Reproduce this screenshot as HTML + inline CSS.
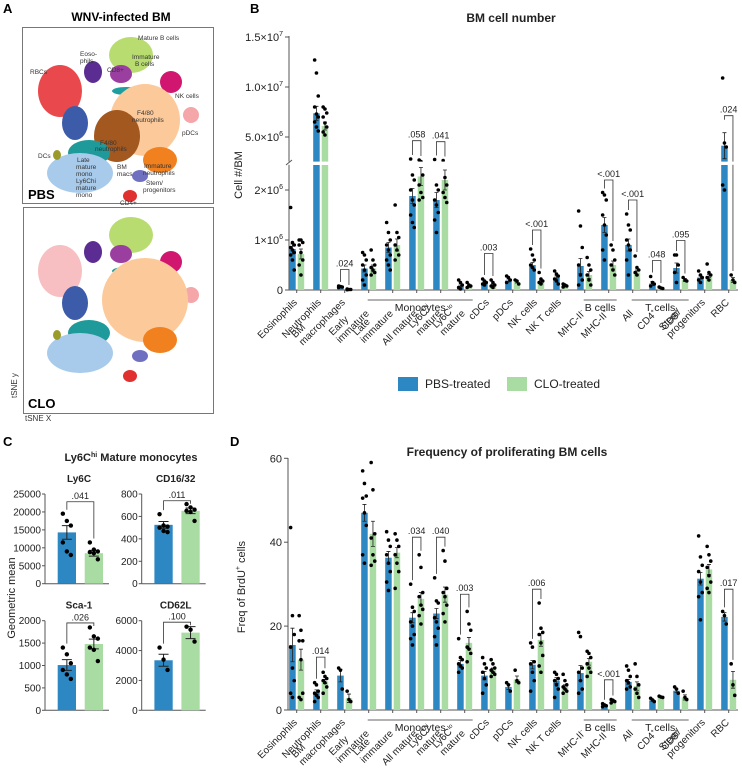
<!DOCTYPE html>
<html><head><meta charset="utf-8">
<style>
html,body{margin:0;padding:0;background:#fff;}
svg{display:block;font-family:"Liberation Sans",Arial,sans-serif;}
</style></head>
<body>
<svg id="fig" width="742" height="775" viewBox="0 0 742 775" xmlns="http://www.w3.org/2000/svg">
  <text x="3" y="13" font-size="13" font-weight="bold">A</text>
  <text x="250" y="13" font-size="13" font-weight="bold">B</text>
  <text x="3" y="446" font-size="13" font-weight="bold">C</text>
  <text x="230" y="446" font-size="13" font-weight="bold">D</text>
  <text x="121" y="21" font-size="12" font-weight="bold" text-anchor="middle">WNV-infected BM</text>
  <rect x="22.5" y="27.5" width="191" height="176" fill="none" stroke="#777"/>
  <rect x="23.5" y="207.5" width="190" height="206" fill="none" stroke="#777"/>
  <g id="tsne"></g>
  <text x="28" y="199" font-size="13" font-weight="bold">PBS</text>
  <text x="28" y="408" font-size="13" font-weight="bold">CLO</text>
  <text transform="translate(17,398) rotate(-90)" font-size="8" fill="#333">tSNE y</text>
  <text x="25" y="421" font-size="8" fill="#333">tSNE X</text>
  <g id="chartB"></g>
  <g id="chartD"></g>
  <g id="chartC"></g>
</svg>
<script>
// ---------- Panel B data (cell number, millions) ----------
const cats = [["Eosinophils"],["Neutrophils"],["BM","macrophages"],["Early","immature"],["Late","immature"],["All mature"],["Ly6C^hi","mature"],["Ly6C^lo","mature"],["cDCs"],["pDCs"],["NK cells"],["NK T cells"],["MHC-II^-"],["MHC-II^+"],["All"],["CD4^+"],["CD8^+"],["Stem/","progenitors"],["RBC"]];
const bPbs = [0.82,7.37,0.06,0.43,0.85,1.88,1.8,0.08,0.14,0.19,0.5,0.25,0.48,1.3,0.9,0.13,0.44,0.25,4.13];
const bClo = [0.72,6.1,0.01,0.43,0.9,2.27,2.2,0.07,0.1,0.16,0.16,0.07,0.3,0.5,0.35,0.04,0.2,0.28,0.2];
const bPbsSem = [0.1,0.7,0.01,0.07,0.1,0.15,0.15,0.02,0.02,0.03,0.05,0.03,0.15,0.15,0.12,0.04,0.1,0.03,1.3];
const bCloSem = [0.1,0.4,0.003,0.07,0.12,0.18,0.2,0.02,0.02,0.02,0.03,0.01,0.07,0.08,0.05,0.01,0.03,0.03,0.05];
const bPbsDots = [[1.65,0.95,0.9,0.85,0.8,0.75,0.7,0.6,0.4],[12.7,11.4,9.1,8.0,7.3,7.0,6.5,6.0,5.6],[0.08,0.07,0.06,0.05],[0.75,0.7,0.6,0.5,0.4,0.3,0.2,0.1],[1.35,1.15,1.0,0.9,0.8,0.7,0.6,0.5,0.4],[2.8,2.3,2.2,2.0,1.8,1.7,1.5,1.35,1.25],[2.75,2.1,2.0,1.8,1.7,1.55,1.4,1.15],[0.2,0.15,0.1,0.05,0.02],[0.22,0.18,0.15,0.12,0.1],[0.28,0.25,0.2,0.15],[0.82,0.7,0.6,0.5,0.45,0.4],[0.38,0.32,0.28,0.22,0.18,0.12],[1.58,1.28,0.85,0.5,0.3,0.2,0.1],[1.95,1.9,1.8,1.5,1.3,1.1,0.8,0.6],[1.52,1.3,1.2,1.0,0.9,0.8,0.6,0.3],[0.27,0.15,0.12,0.08],[0.7,0.7,0.5,0.35,0.15],[0.38,0.3,0.25,0.2,0.15],[10.9,4.4,4.0,2.1,2.0]];
const bCloDots = [[1.0,1.0,0.95,0.9,0.75,0.6,0.5,0.3],[8.0,7.8,7.4,7.0,6.4,6.0,5.5,5.2],[0.02,0.01,0.01,0.005],[0.8,0.6,0.5,0.45,0.4,0.35,0.3],[1.7,1.15,1.05,0.9,0.8,0.7,0.6],[2.7,2.55,2.3,2.1,1.95,1.85,1.8],[2.65,2.25,2.1,1.95,1.85,1.75],[0.15,0.1,0.08,0.05],[0.2,0.15,0.1,0.08,0.05],[0.2,0.18,0.12],[0.35,0.22,0.18,0.15,0.12],[0.12,0.1,0.08,0.06],[0.65,0.5,0.4,0.3,0.2,0.1],[0.9,0.8,0.6,0.5,0.4,0.3],[0.68,0.45,0.4,0.35,0.3],[0.06,0.04,0.03],[0.25,0.2,0.18],[0.52,0.35,0.3,0.25,0.2],[0.3,0.2,0.15]];
const bBrIdx = [2,5,6,8,10,13,14,15,16,18];
const bBrVal = [0.41,4.63,4.53,0.73,1.2,2.2,1.8,0.59,0.99,7.13];
const bBrLab = [".024",".058",".041",".003","<.001","<.001","<.001",".048",".095",".024"];
const bTickVals = [0,1,2,5,10,15];
const bTickLabs = [["0",""],["1×10","6"],["2×10","6"],["5.0×10","6"],["1.0×10","7"],["1.5×10","7"]];

// ---------- Panel D data (freq BrdU+) ----------
const dPbs = [15.5,4.3,8.2,47,36.3,22,23,11,8.2,5.5,10.8,7,8.8,1.2,6.7,2.3,4.6,31.3,22.2];
const dClo = [12,6.8,2.8,42,37.5,26.5,27.5,16,9.5,7.3,16.7,5.5,11.5,2,5.7,3.1,3,33.5,7.2];
const dPbsSem = [4,0.5,1.5,2,1.5,1.2,1.2,0.8,1,0.6,1,0.7,1.8,0.15,0.6,0.2,0.4,1.5,1];
const dCloSem = [2.5,0.5,1,3,1.2,1.5,1.8,1.3,0.5,0.8,1.5,0.5,0.8,0.15,1,0.1,0.6,1.2,2];
const dPbsDots = [[43.5,22.5,18,15,10,7,4,3],[6.5,6,4.5,4,3.5,3,2],[10,9.5,5],[57,54,51,50.5,47,44,37,35],[42.5,40.5,39,37,35,33,30.5,28.5],[30,24.5,23.5,21,20,18,17,15.5],[31.5,26,25.5,22,21,19.5,17.5,15.5],[17,12.5,12,11,10.5,10,9],[12.5,11,10,9,7.5,6,4],[6.5,6,4.5],[16,15,11.5,11,9,7,4.5],[9,8.5,7.5,7,6,5,3],[18.5,17.5,10,9,7,5,4],[1.5,1.2,1,0.8],[10.5,9.5,8,7,6.5,5.5,5],[2.8,2.4,2],[5.5,5,4],[41.5,36.5,34.5,33,30.5,28,27,21.5],[23.5,22.5,20.5]];
const dCloDots = [[22.5,19,16.5,16.5,12,4,3,2.5],[9,8,7.5,7,6.5,5.5,4],[4.5,2.5,2],[59,52.5,42,41,37,35.5,34.5],[42,40.5,39,37,35,33,29],[37,34,28,27,25,24,22.5,20.5],[38,35.5,29,28,27,25,23,21],[23.5,20.5,19,15,14.5,13.5,11.5],[12,11,10,9.5,9,8.5,8],[9.5,7,6.5],[25.5,19.5,18.5,18,16,13,10.5,9],[8.5,7,6,5.5,5,4.5,4],[14,13.5,12.5,11,10,9,8],[2.5,2.3,2,1.7],[11,8,6,5,4,3],[3.3,3.1,3],[4.5,3,2.5],[39,37,35.5,34,32,30.5,29,28],[11,6,3.5]];
const dBrIdx = [1,5,6,7,10,13,18];
const dBrVal = [12.6,41.2,41.2,27.6,28.8,7.2,28.8];
const dBrLab = [".014",".034",".040",".003",".006","<.001",".017"];
const dTicks = [0,20,40,60];

// ---------- Panel C data ----------
const cTitles = ["Ly6C","CD16/32","Sca-1","CD62L"];
const cMax = [25000,800,2000,6000];
const cTicks = [[0,5000,10000,15000,20000,25000],[0,200,400,600,800],[0,500,1000,1500,2000],[0,2000,4000,6000]];
const cPbs = [14300,525,1010,3350];
const cClo = [8500,650,1480,5200];
const cPbsSem = [1900,30,120,400];
const cCloSem = [800,25,110,400];
const cPbsDots = [[19500,17500,16200,11500,9000,8000],[620,520,510,500,470,460],[1400,1250,1050,900,800,700],[4200,3400,2700]];
const cCloDots = [[11500,9500,9000,8800,8500,6800],[710,680,660,650,640,560],[1850,1650,1600,1400,1350,1100],[5600,5400,4600]];
const cBrVal = [22850,740,1950,5900];
const cBrLab = [".041",".011",".026",".100"];

const PBS = "#2d87c3", CLO = "#a9dca2", AX = "#555";
const NS = "http://www.w3.org/2000/svg";
const GROUPED = [3,4,5,6,7,12,13,14,15,16];
function mk(tag, attrs, parent){const e=document.createElementNS(NS,tag);for(const k in attrs)e.setAttribute(k,attrs[k]);parent.appendChild(e);return e;}

// ---------- tSNE blobs (panel A) ----------
const tsne = document.getElementById('tsne');
const blobs = [
 ["mature-b-cells","#b8dc70",131,55,22,18],["eosinophils","#5b2c92",93,72,9,11],["cd8-t-cells","#9a3fa0",121,74,11,9],["teal-strip","#1e9f9f",126,91,14,4],
 ["rbcs","#e9494c",60,91,22,26],["nk-cells","#d1166f",171,82,11,11],["pdcs","#f4a6a8",191,115,8,8],["f4-80-neutrophils","#fcca9a",145,120,35,36],
 ["f4-80-lo-neutrophils","#a3581f",117,136,23,26],["immature-neutrophils","#f1801f",160,160,17,13],["early-mono","#3c5ba8",75,123,13,17],["late-mono","#1e9a9a",89,153,21,13],
 ["ly6chi-mono","#a9cbeb",80,173,33,20],["dcs","#9b9b2a",57,155,4,5],["stem","#7070c0",140,176,8,6],["cd4-t-cells","#e03030",130,196,7,6]
];
const labelsA = [["Mature B cells",138,40],["Eoso-",80,56],["phils",80,63],["Immature",132,59],["B cells",135,66],["CD8+",107,72],["RBCs",30,74],["NK cells",175,98],["F4/80",137,115],["neutrophils",132,122],["pDCs",182,135],["F4/80",100,145],["neutrophils",95,151],["DCs",38,158],["Late",77,162],["mature",76,169],["mono",76,176],["BM",117,169],["macs",117,176],["Immature",144,168],["neutrophils",143,175],["Ly6Chi",76,183],["mature",76,190],["mono",76,197],["Stem/",146,185],["progenitors",143,192],["CD4+",120,205]];
[0,1].forEach(p=>{
  const dy = p===0?0:180;
  blobs.forEach(b=>{
    let rx=b[4], ry=b[5], op=1;
    if(p===1 && b[0]==="rbcs"){op=0.35;}
    if(p===1 && b[0]==="f4-80-neutrophils"){rx=b[4]+8;ry=b[5]+6;}
    if(p===1 && b[0]==="f4-80-lo-neutrophils"){return;}
    const e=mk('ellipse',{cx:b[2],cy:b[3]+dy,rx:rx,ry:ry,fill:b[1],opacity:op},tsne);
    
    
  });
});
labelsA.forEach(l=>{
  const t=mk('text',{x:l[1],y:l[2],'font-size':6.5,fill:'#333'},tsne);
  t.textContent=l[0];
  
  
});

function fillLine(t, line){
  const parts=line.split('^');
  const a=mk('tspan',{},t); a.textContent=parts[0];
  if(parts[1]){const s=mk('tspan',{'font-size':6,dy:-4},t);s.textContent=parts[1];}
}

// ---------- Grouped chart helper ----------
function groupedChart(g, cfg){
  const xs = i => 296.7 + i*24;
  const y = cfg.y;
  let a=mk('line',{x1:cfg.ax,y1:cfg.yTopAxis,x2:cfg.ax,y2:cfg.y0,stroke:AX,'stroke-width':1},g);
  
  
  a=mk('line',{x1:cfg.ax,y1:cfg.y0,x2:738,y2:cfg.y0,stroke:AX,'stroke-width':1},g);
  
  
  cats.forEach((c,i)=>{
    const cx = xs(i);
    const tk=mk('line',{x1:cx,y1:cfg.y0,x2:cx,y2:cfg.y0+3,stroke:AX},g);
    
    
    [[cfg.pbs,cfg.pbsSem,cfg.pbsDots,PBS,-7.5,'pbs'],[cfg.clo,cfg.cloSem,cfg.cloDots,CLO,1,'clo']].forEach(s=>{
      const v=s[0][i], bx=cx+s[4], bw=6.5;
      const top=y(v);
      if(cfg.brk && v>cfg.brk){
        let r=mk('rect',{x:bx,y:top,width:bw,height:y(cfg.brk,true)-top,fill:s[3]},g);
        
        
        r=mk('rect',{x:bx,y:y(cfg.brk),width:bw,height:cfg.y0-y(cfg.brk),fill:s[3]},g);
        
        
      } else {
        const r=mk('rect',{x:bx,y:top,width:bw,height:Math.max(cfg.y0-top,0.6),fill:s[3]},g);
        
        
      }
      const mx=bx+bw/2, e1=y(v+s[1][i]), e2=y(Math.max(v-s[1][i],0));
      const eb=mk('path',{d:`M${mx},${e1}V${e2}M${mx-2},${e1}H${mx+2}M${mx-2},${e2}H${mx+2}`,stroke:'#222','stroke-width':0.8,fill:'none'},g);
      
      
      s[2][i].forEach((d,k)=>{
        const dot=mk('circle',{cx:mx+((k%3)-1)*1.8,cy:y(d),r:1.8,fill:'#000'},g);
        
        
      });
    });
    const off = GROUPED.indexOf(i)>=0 ? 24 : 13;
    const lg=mk('g',{transform:`translate(${cx+1},${cfg.y0+off}) rotate(-45)`},g);
    
    
    const last=mk('text',{x:0,y:0,'font-size':10,fill:'#222','text-anchor':'end'},lg);
    fillLine(last, c[c.length-1]);
    if(c.length>1){
      const w=last.getComputedTextLength();
      const first=mk('text',{x:-w,y:-10.5,'font-size':10,fill:'#222'},lg);
      fillLine(first, c[0]);
    }
  });
  cfg.brIdx.forEach((i,k)=>{
    const cx=xs(i), x1=cx-4.25, x2=cx+4.25, yb=y(cfg.brVal[k]);
    const lp=Math.max(...cfg.pbsDots[i]), rp=Math.max(...cfg.cloDots[i]);
    const l1=Math.max(yb+4, y(lp)-4), l2=Math.max(yb+4, y(rp)-4);
    const p=mk('path',{d:`M${x1},${l1}V${yb}H${x2}V${l2}`,stroke:'#333','stroke-width':0.8,fill:'none'},g);
    
    
    const t=mk('text',{x:cx,y:yb-3,'font-size':9,'text-anchor':'middle',fill:'#222'},g);
    t.textContent=cfg.brLab[k];
    
    
  });
  [["Monocytes",3,7],["B cells",12,13],["T cells",14,16]].forEach(gr=>{
    const l=mk('line',{x1:xs(gr[1])-1,y1:cfg.y0+10,x2:xs(gr[2])+8,y2:cfg.y0+10,stroke:'#666'},g);
    
    
    const t=mk('text',{x:(xs(gr[1])+xs(gr[2])+7)/2,y:cfg.y0+21,'font-size':10.5,'text-anchor':'middle',fill:'#222'},g);
    t.textContent=gr[0];
    
    
  });
}

// ---------- Panel B ----------
const gB=document.getElementById('chartB');
function yB(v, upper){ if(upper) return 137-10*(v-5); return v<=2.5 ? 290-50*v : 137-10*(v-5); }
groupedChart(gB,{y:yB,y0:290,yTopAxis:36,ax:289,brk:2.5,pbs:bPbs,clo:bClo,pbsSem:bPbsSem,cloSem:bCloSem,pbsDots:bPbsDots,cloDots:bCloDots,brIdx:bBrIdx,brVal:bBrVal,brLab:bBrLab});
let wb=mk('rect',{x:284,y:161.6,width:455,height:3.2,fill:'#fff'},gB);


wb=mk('path',{d:'M286,165L292,160',stroke:AX},gB);


bTickVals.forEach((v,k)=>{
  const yy=yB(v);
  const tk=mk('line',{x1:285,y1:yy,x2:289,y2:yy,stroke:AX},gB);
  
  
  const t=mk('text',{x:283,y:yy+4,'font-size':11,'text-anchor':'end',fill:'#222'},gB);
  
  
  const a=mk('tspan',{},t);a.textContent=bTickLabs[k][0];
  if(bTickLabs[k][1]){const s=mk('tspan',{'font-size':7,dy:-5},t);s.textContent=bTickLabs[k][1];}
});
let tB=mk('text',{x:511,y:22,'font-size':12,'font-weight':'bold','text-anchor':'middle',fill:'#222'},gB);
tB.textContent='BM cell number';


tB=mk('text',{transform:'translate(242,175) rotate(-90)','font-size':11,'text-anchor':'middle',fill:'#222'},gB);
tB.textContent='Cell #/BM';


[[PBS,'PBS-treated',398],[CLO,'CLO-treated',507]].forEach(l=>{
  const r=mk('rect',{x:l[2],y:377,width:20,height:14,fill:l[0]},gB);
  
  
  const t=mk('text',{x:l[2]+27,y:388,'font-size':12,fill:'#222'},gB);
  t.textContent=l[1];
  
  
});

// ---------- Panel D ----------
const gD=document.getElementById('chartD');
function yD(v){ return 710 - v*4.195; }
groupedChart(gD,{y:yD,y0:710,yTopAxis:458,ax:288,brk:null,pbs:dPbs,clo:dClo,pbsSem:dPbsSem,cloSem:dCloSem,pbsDots:dPbsDots,cloDots:dCloDots,brIdx:dBrIdx,brVal:dBrVal,brLab:dBrLab});
dTicks.forEach(v=>{
  const yy=yD(v);
  const tk=mk('line',{x1:284,y1:yy,x2:288,y2:yy,stroke:AX},gD);
  
  
  const t=mk('text',{x:282,y:yy+4,'font-size':11,'text-anchor':'end',fill:'#222'},gD);
  t.textContent=v;
  
  
});
let tD=mk('text',{x:507,y:456,'font-size':12,'font-weight':'bold','text-anchor':'middle',fill:'#222'},gD);
tD.textContent='Frequency of proliferating BM cells';


tD=mk('text',{transform:'translate(245,587) rotate(-90)','font-size':11,'text-anchor':'middle',fill:'#222'},gD);


let s1=mk('tspan',{},tD);s1.textContent='Freq of BrdU';
let s2=mk('tspan',{'font-size':7,dy:-5},tD);s2.textContent='+';
let s3=mk('tspan',{dy:5},tD);s3.textContent=' cells';

// ---------- Panel C ----------
const gC=document.getElementById('chartC');
const cPos=[[45,494,583.7],[141.7,494,583.7],[45,620.7,710.3],[141.7,620.7,710.3]];
cTitles.forEach((ttl,k)=>{
  const ax=cPos[k][0], yt=cPos[k][1], y0=cPos[k][2];
  const yc=v=> y0-(v/cMax[k])*(y0-yt);
  let e=mk('line',{x1:ax,y1:yt,x2:ax,y2:y0,stroke:AX},gC);
  
  
  e=mk('line',{x1:ax,y1:y0,x2:ax+64,y2:y0,stroke:AX},gC);
  
  
  cTicks[k].forEach(v=>{
    const tk=mk('line',{x1:ax-3,y1:yc(v),x2:ax,y2:yc(v),stroke:AX},gC);
    
    
    const t=mk('text',{x:ax-4,y:yc(v)+3.5,'font-size':10,'text-anchor':'end',fill:'#222'},gC);
    t.textContent=v;
    
    
  });
  const tt=mk('text',{x:ax+34,y:yt-12,'font-size':10,'font-weight':'bold','text-anchor':'middle',fill:'#222'},gC);
  tt.textContent=ttl;
  
  
  [[cPbs,cPbsSem,cPbsDots,PBS,12.7,'pbs'],[cClo,cCloSem,cCloDots,CLO,39.7,'clo']].forEach(s=>{
    const v=s[0][k], bx=ax+s[4], bw=18.3, mx=bx+bw/2;
    const r=mk('rect',{x:bx,y:yc(v),width:bw,height:y0-yc(v),fill:s[3]},gC);
    
    
    const e1=yc(v+s[1][k]), e2=yc(v-s[1][k]);
    const eb=mk('path',{d:`M${mx},${e1}V${e2}M${mx-5},${e1}H${mx+5}M${mx-5},${e2}H${mx+5}`,stroke:'#222','stroke-width':1,fill:'none'},gC);
    
    
    s[2][k].forEach((d,j)=>{
      const dot=mk('circle',{cx:mx+((j%3)-1)*4,cy:yc(d),r:2.2,fill:'#000'},gC);
      
      
    });
  });
  const yb=yc(cBrVal[k]), x1=ax+21.85, x2=ax+48.85;
  const lp=Math.max(...cPbsDots[k]), rp=Math.max(...cCloDots[k]);
  const br=mk('path',{d:`M${x1},${Math.max(yb+3,yc(lp)-4)}V${yb}H${x2}V${Math.max(yb+3,yc(rp)-4)}`,stroke:'#333','stroke-width':0.8,fill:'none'},gC);
  
  
  const bl=mk('text',{x:ax+35.3,y:yb-2.5,'font-size':9,'text-anchor':'middle',fill:'#222'},gC);
  bl.textContent=cBrLab[k];
  
  
});
let tc=mk('text',{x:131,y:461,'font-size':11,'font-weight':'bold','text-anchor':'middle',fill:'#222'},gC);


let c1=mk('tspan',{},tc);c1.textContent='Ly6C';
let c2=mk('tspan',{'font-size':7,dy:-4},tc);c2.textContent='hi';
let c3=mk('tspan',{dy:4},tc);c3.textContent=' Mature monocytes';
tc=mk('text',{transform:'translate(15,598) rotate(-90)','font-size':11,'text-anchor':'middle',fill:'#222'},gC);
tc.textContent='Geometric mean';


</script>
</body></html>
